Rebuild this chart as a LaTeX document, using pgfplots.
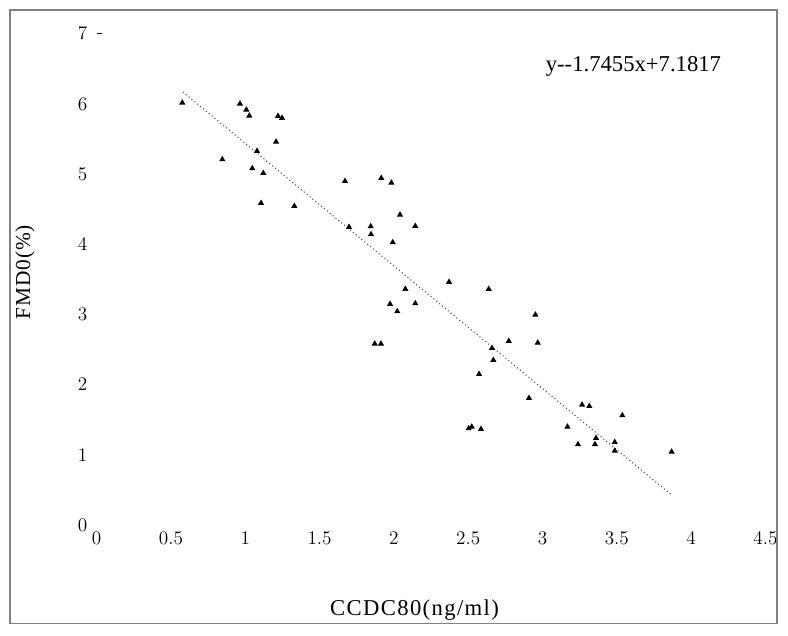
\documentclass[border=0pt]{standalone}
\usepackage[no-math]{fontspec}
\setmainfont{Liberation Serif}
\usepackage{pgfplots}
\pgfplotsset{compat=1.18}

\pgfplotstableread{
x      y
0.576  6.016
0.964  6.001
1.007  5.916
1.027  5.831
1.220  5.826
1.247  5.798
1.207  5.460
1.079  5.328
0.845  5.209
1.047  5.081
1.121  5.014
1.106  4.587
1.330  4.544
1.671  4.900
1.915  4.943
1.983  4.876
2.041  4.420
2.144  4.259
1.698  4.245
1.844  4.255
1.846  4.141
1.992  4.027
2.077  3.362
2.371  3.462
2.638  3.362
1.974  3.148
2.023  3.044
2.144  3.158
2.952  2.996
1.871  2.583
1.913  2.583
2.660  2.521
2.773  2.621
2.968  2.597
2.669  2.350
2.573  2.151
2.909  1.809
2.503  1.377
2.524  1.400
2.586  1.368
3.168  1.400
3.239  1.150
3.266  1.714
3.315  1.695
3.537  1.563
3.360  1.239
3.353  1.150
3.486  1.182
3.486  1.058
3.869  1.044
}\scatterdata

\begin{document}
\begin{tikzpicture}
\begin{axis}[
  scale only axis,
  width=501.5pt, height=368.6pt,
  xmin=0, xmax=4.5, ymin=0, ymax=7,
  clip=false,
  axis line style={draw=none},
  major tick length=0pt,
  ytick pos=left, xtick pos=bottom,
  xtick={0,0.5,...,4.5},
  ytick={0,1,...,6},
  extra y ticks={7},
  extra y tick style={major tick length=3.8pt, tick align=inside,
    tick style={black, line width=0.6pt}},
  tick label style={font=\fontsize{15.5}{18}\selectfont},
  xticklabel style={anchor=center, yshift=-10pt},
  yticklabel style={anchor=center, xshift=-10.5pt},
  every axis plot/.append style={line width=0.8pt},
]
% page frame
\draw[gray, line width=1.1pt] (axis cs:-0.5835,-1.403) rectangle (axis cs:4.578,7.336);
\path (axis cs:-0.6507,-1.567) rectangle (axis cs:4.652,7.479);

\addplot[only marks, mark=triangle*, mark size=1.9pt, black] table[x=x, y=y] {\scatterdata};
\addplot[dotted, gray!60!black, line width=0.8pt] coordinates {(0.58,6.169) (3.87,0.427)};

\node[font=\fontsize{17}{20}\selectfont] at (axis cs:3.612,6.54) {y-{}-1.7455x+7.1817};
\node[rotate=90, font=\fontsize{16}{19}\selectfont\addfontfeature{LetterSpace=4}] at (axis cs:-0.4825,3.604) {FMD0(\%)};
\node[font=\fontsize{17}{20}\selectfont\addfontfeature{LetterSpace=6}] at (axis cs:2.139,-1.211) {CCDC80(ng/ml)};
\end{axis}
\end{tikzpicture}
\end{document}
